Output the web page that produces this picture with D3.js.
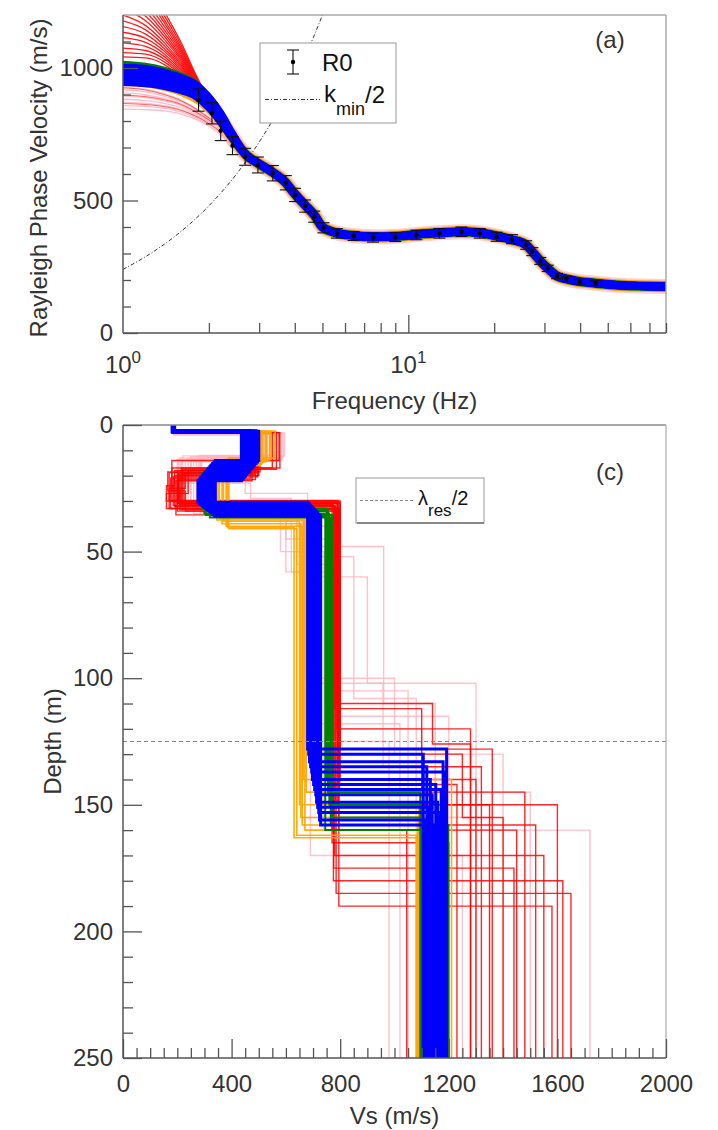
<!DOCTYPE html>
<html><head><meta charset="utf-8">
<script src="https://cdn.jsdelivr.net/npm/d3@7"></script>
<style>
body{margin:0;background:#fff}
svg{display:block}
text{font-family:"Liberation Sans",Arial,sans-serif;fill:#333}
</style>
</head><body>
<svg id="c" width="718" height="1130"></svg>
<script>
// ---------------- DATA: dispersion (panel a) ----------------
const freqGrid = [1, 1.2, 1.4, 1.6, 1.8, 2.0, 2.2, 2.4, 2.7, 3.0, 3.35, 3.7, 4.0, 4.35, 4.7, 5.0, 5.6, 6.4, 7.5, 9.0, 10.7, 12.8, 15.3, 17.8, 20.4, 23.1, 25.9, 27.2, 29.0, 30.8, 33.2, 35.8, 39.9, 45.3, 55, 80];
const bestFit  = [975, 968, 955, 935, 910, 862, 805, 745, 672, 638, 606, 570, 525, 482, 443, 400, 378, 368, 363, 365, 372, 378, 382, 378, 366, 352, 332, 307, 272, 244, 215, 204, 194, 188, 180, 175];
// low-frequency parts (first 8 grid frequencies) of the model curves
const redCurves = [
  [1450,1330,1210,1095,975,885,830,760],[1420,1310,1195,1085,968,882,828,759],
  [1390,1290,1180,1075,962,879,826,758],[1360,1270,1168,1066,957,876,825,757],
  [1330,1250,1155,1058,952,873,823,756],[1300,1230,1142,1050,947,870,822,756],
  [1275,1212,1130,1042,943,868,821,755],[1250,1195,1118,1034,939,866,820,755],
  [1225,1178,1106,1026,935,864,819,754],[1200,1160,1094,1018,931,862,818,754],
  [1178,1144,1083,1011,927,860,817,753],[1156,1128,1072,1004,923,858,816,753],
  [1135,1112,1062,997,919,856,815,752],[1115,1097,1052,990,915,854,814,752],
  [1095,1082,1042,983,911,852,813,751],[1075,1066,1032,976,907,850,812,751],
  [1058,1052,1022,969,903,848,811,750],[1042,1038,1012,962,899,846,810,750],
  [866,862,854,840,818,790,757,708],[898,892,880,862,834,804,772,720],[925,917,899,876,846,812,780,728]
];
const pinkCurves = [
  [845,843,838,826,806,780,748,700],[858,855,848,834,812,786,754,705],
  [870,866,857,842,818,792,760,710],[882,877,866,850,824,797,765,714],
  [894,888,875,858,830,802,770,718],[906,899,884,865,836,806,774,722],
  [918,910,893,872,842,810,778,726],[928,920,902,879,848,814,782,730]
];
const orangeCurves = [[935,929,916,896,868,828,785,735],[940,934,921,901,873,832,788,737]];
const greenCurves  = [[1024,1016,1001,980,952,902,840,762],[1020,1012,997,976,948,899,838,760]];
const blueCurves = [
  [1003,996,982,962,936,888,828,756],[990,984,971,952,926,880,822,752],
  [976,970,958,940,915,870,814,748],[962,957,946,928,905,861,806,744],
  [947,942,932,916,894,852,798,740]
];
// observed R0 dispersion with error bars
const r0Freq = [1.84, 2.05, 2.20, 2.42, 2.68, 2.97, 3.35, 3.72, 4.01, 4.35, 4.68, 5.04, 5.62, 6.43, 7.52, 9.0, 10.67, 12.85, 15.35, 17.8, 20.4, 23.1, 25.9, 27.2, 29.0, 30.8, 33.2, 35.8, 39.9, 45.3];
const r0Vel  = [879, 829, 763, 707, 665, 634, 603, 567, 521, 479, 439, 397, 376, 366, 360, 362, 370, 376, 382, 376, 363, 354, 332, 307, 272, 244, 215, 204, 194, 188];
const r0Err  = [42, 40, 37, 34, 32, 30, 29, 27, 25, 23, 21, 19, 18, 17, 17, 17, 18, 18, 18, 18, 17, 17, 16, 15, 13, 12, 10, 10, 9, 9];
// k_min/2 limit curve
const kFreq = [1, 1.25, 1.5, 1.75, 2, 2.5, 3, 3.5, 4, 4.5, 5, 5.5];
const kVel  = [240, 300, 360, 420, 480, 600, 720, 840, 960, 1080, 1200, 1320];
const velMajor = [0, 500, 1000];
const velMinor = [100, 200, 300, 400, 600, 700, 800, 900, 1100];
const freqMinor = [2, 3, 4, 5, 6, 7, 8, 9, 20, 30, 40, 50, 60, 70, 80];
const freqMajor = [10];
const freqLabels = [[1, "0"], [10, "1"]];

// ---------------- DATA: Vs profiles (panel c) ----------------
const pinkVs = [
  [185,520,250,640,780,1050],[186,590,210,600,760,1200],[188,540,280,660,900,1300],
  [184,575,230,450,680,960,1150],[187,560,200,580,740,1720],[185,510,290,670,1000,1400],
  [189,595,220,470,620,800,1100],[186,530,260,700,980],[183,565,240,650,850,1080],
  [188,545,270,690,1250],[185,585,205,640,760,1500],[187,525,285,675,958,1150],
  [184,555,215,600,720,1020],[186,570,250,660,1350]
];
const pinkZ = [
  [3.5,12.5,30,55,105],[3.2,13,32,45,115],[3.8,12,33,60,102],
  [3,14,22,27,48,110],[3.4,13.5,31,50,160],[3.6,12.8,34,100,130],
  [3.1,12.2,23,29,58,120],[3.5,14.5,35,125],[3.3,13.2,30.5,52,108],
  [3.7,12.6,33.5,170],[3.2,13.8,31.5,40,145],[3.9,12.4,34.5,102,135],
  [3.3,14.2,32.5,58,118],[3.5,13.4,31,155]
];
const redVs = [
  [185,480,200,790,1350],[187,575,180,785,1140,1280],[183,460,230,170,795,1450],
  [190,500,210,780,1550],[185,490,190,160,800,1300],[186,550,215,775,1620],
  [184,470,175,790,1250,1400],[188,485,205,798,1480],[185,505,165,230,785,1650],
  [187,475,195,770,1200],[183,565,220,792,1320],[189,495,185,780,1100,1520],
  [186,465,240,160,795,1580],[185,488,200,788,1280],[184,578,180,210,776,1440],
  [188,478,225,800,1360],[185,498,190,783,1600],[187,482,170,792,1230],
  [185,490,205,770,1045]
];
const redZ = [
  [3,18,31,150],[3,14,30,110,126],[2.8,19,25,33,160],
  [3.2,20,32,170],[3,18,24,30,140],[2.9,17,31.5,180],
  [3.1,21,33,130,155],[2.7,19.5,30.5,145],[3,18.5,26,34,185],
  [3.3,22,35.5,165],[2.8,17.5,30.8,135],[3,20.5,31.8,112,158],
  [2.9,18,27,33,190],[3.1,21.5,34,120],[3,17,26,33.5,175],
  [2.8,19,31,128],[3.2,20,32.2,150],[2.9,18.8,29.8,142],
  [3,19,31,160]
];
const orangeVs = [
  [185,530,370,650,1090],[183,545,380,660,1085],[188,515,355,670,1095],[186,560,390,640,1080],
  [190,505,350,675,1100],[184,525,365,655,1088],[187,540,385,630,1092],[185,510,345,665,1210]
];
const orangeZ = [
  [3,14,38,150],[2.6,13.5,40,158],[2.8,15,37,160],[2.4,13,41,162],
  [2.7,16,36.5,145],[2.5,14.5,39,155],[2.9,13.8,40.5,163],[2.6,15.5,37.5,140]
];
const greenVs = [
  [190,440,300,760,1100],[186,436,310,755,1095],[188,470,320,765,1198],
  [192,450,290,750,1105],[185,495,335,745,1190],[190,460,305,770,1100]
];
const greenZ = [
  [2.5,20,35,150],[2.7,21,34,145],[2.4,16,36.5,158],
  [2.6,19,33,140],[2.5,14.5,36,160],[2.6,18,35.5,155]
];
const blueVs = [
  [186,500,340,728,1146],[184,495,335,724,1113],[188,490,330,721,1166],[182,485,325,717,1126],
  [190,480,320,713,1159],[185,475,315,710,1139],[183,470,310,706,1172],[187,466,306,702,1152],
  [181,461,301,698,1132],[189,456,296,695,1185],[186,451,291,691,1119],[184,446,286,687,1179],
  [188,441,281,684,1106],[185,436,276,680,1192]
];
const blueZ = [
  [2.5,14.0,36.0,158],[2.7,14.6,35.6,156],[2.3,15.2,35.2,153],[2.8,15.8,34.7,151],
  [2.4,16.5,34.3,149],[2.6,17.1,33.9,146],[2.9,17.7,33.5,144],[2.2,18.3,33.0,142],
  [2.7,18.9,32.6,140],[2.5,19.5,32.2,137],[2.8,20.2,31.8,135],[2.4,20.8,31.3,133],
  [2.6,21.4,30.9,130],[2.5,22.0,30.5,128]
];
const resDepth = 125;
const depthMajor = [0, 50, 100, 150, 200, 250];
const depthMinor = [10,20,30,40,60,70,80,90,110,120,130,140,160,170,180,190,210,220,230,240];
const vsMajor = [0, 400, 800, 1200, 1600, 2000];
const vsMinor = [50,100,150,200,250,300,350,450,500,550,600,650,700,750,850,900,950,1000,1050,1100,1150,1250,1300,1350,1400,1450,1500,1550,1650,1700,1750,1800,1850,1900,1950];

// ---------------- DRAWING ----------------
const svg = d3.select("#c");
const FONT = 24;
const axisCol = "#555", lightCol = "#aaa";

// ===== Panel (a) =====
const A = {l:123, r:666, t:15, b:333};
const fx = d3.scaleLog().domain([1, 80]).range([A.l, A.r]);
const fy = d3.scaleLinear().domain([0, 1200]).range([A.b, A.t]);
svg.append("clipPath").attr("id","clipA").append("rect")
  .attr("x",A.l).attr("y",A.t).attr("width",A.r-A.l).attr("height",A.b-A.t);
const gA = svg.append("g").attr("clip-path","url(#clipA)");
const dline = d3.line().x(d=>fx(d[0])).y(d=>fy(d[1])).curve(d3.curveMonotoneX);
const curvePts = low => freqGrid.map((f,i)=>[f, i<low.length ? low[i] : bestFit[i]]);
const bestPts = freqGrid.map((f,i)=>[f, bestFit[i]]);

function drawCurves(set, color, width, op){
  gA.append("g").selectAll("path").data(set).join("path")
    .attr("d", d=>dline(curvePts(d))).attr("fill","none")
    .attr("stroke",color).attr("stroke-width",width).attr("stroke-opacity",op);
}
drawCurves(redCurves.slice(0,18), "#ff0000", 1.3, 0.9);
drawCurves(pinkCurves, "#ffb6c1", 1.3, 0.9);
drawCurves(redCurves.slice(18), "#ff0000", 1, 0.6);
// envelopes along the best-fitting family
gA.append("path").attr("d",dline(bestPts)).attr("fill","none").attr("stroke","#ffc0cb").attr("stroke-width",15).attr("stroke-opacity",0.8);
gA.append("path").attr("d",dline(bestPts)).attr("fill","none").attr("stroke","#ffa500").attr("stroke-width",11.5);
gA.append("path").attr("d",dline(bestPts)).attr("fill","none").attr("stroke","#008000").attr("stroke-width",9.5);
drawCurves(orangeCurves, "#ffa500", 1.5, 1);
drawCurves(greenCurves, "#008000", 1.8, 1);
drawCurves(blueCurves, "#0000ff", 8, 1);

// k_min/2 curve
gA.append("path").attr("d", dline(kFreq.map((f,i)=>[f,kVel[i]])))
  .attr("fill","none").attr("stroke","#222").attr("stroke-width",0.9).attr("stroke-dasharray","4,2,1,2");

// error bars
const eb = svg.append("g").selectAll("g").data(r0Freq.map((f,i)=>({f, v:r0Vel[i], e:r0Err[i]}))).join("g");
eb.append("line").attr("x1",d=>fx(d.f)).attr("x2",d=>fx(d.f)).attr("y1",d=>fy(d.v-d.e)).attr("y2",d=>fy(d.v+d.e)).attr("stroke","#111").attr("stroke-width",1.1);
eb.append("line").attr("x1",d=>fx(d.f)-6).attr("x2",d=>fx(d.f)+6).attr("y1",d=>fy(d.v+d.e)).attr("y2",d=>fy(d.v+d.e)).attr("stroke","#111").attr("stroke-width",1.1);
eb.append("line").attr("x1",d=>fx(d.f)-6).attr("x2",d=>fx(d.f)+6).attr("y1",d=>fy(d.v-d.e)).attr("y2",d=>fy(d.v-d.e)).attr("stroke","#111").attr("stroke-width",1.1);
eb.append("circle").attr("cx",d=>fx(d.f)).attr("cy",d=>fy(d.v)).attr("r",2.2).attr("fill","#000");

// legend (a)
const la = svg.append("g");
la.append("rect").attr("x",260).attr("y",43).attr("width",136).attr("height",80).attr("fill","#fff").attr("stroke","#999").attr("stroke-width",1);
la.append("line").attr("x1",293).attr("x2",293).attr("y1",50).attr("y2",74).attr("stroke","#111").attr("stroke-width",1.1);
la.append("line").attr("x1",287).attr("x2",299).attr("y1",50).attr("y2",50).attr("stroke","#111").attr("stroke-width",1.1);
la.append("line").attr("x1",287).attr("x2",299).attr("y1",74).attr("y2",74).attr("stroke","#111").attr("stroke-width",1.1);
la.append("circle").attr("cx",293).attr("cy",62).attr("r",2.2).attr("fill","#000");
la.append("text").attr("x",322).attr("y",71).attr("font-size",FONT).style("fill","#111").text("R0");
la.append("line").attr("x1",265).attr("x2",320).attr("y1",99.5).attr("y2",99.5).attr("stroke","#222").attr("stroke-width",0.9).attr("stroke-dasharray","4,2,1,2");
const kt = la.append("text").attr("x",324).attr("y",102).attr("font-size",FONT).style("fill","#111");
kt.append("tspan").text("k");
kt.append("tspan").attr("font-size",18).attr("dy",13).text("min");
kt.append("tspan").attr("dy",-12).text("/2");

// frame & axes (a)
svg.append("line").attr("x1",A.l).attr("x2",A.r).attr("y1",A.t).attr("y2",A.t).attr("stroke",lightCol).attr("stroke-width",1.5);
svg.append("line").attr("x1",A.r).attr("x2",A.r).attr("y1",A.t).attr("y2",A.b).attr("stroke",lightCol).attr("stroke-width",1.5);
svg.append("g").attr("transform",`translate(${A.l},0)`)
  .call(d3.axisLeft(fy).tickValues(velMajor).tickSize(-15).tickPadding(10).tickFormat(d3.format("d")));
svg.append("g").attr("transform",`translate(${A.l},0)`)
  .call(d3.axisLeft(fy).tickValues(velMinor).tickSize(-8).tickFormat(""));
svg.append("g").attr("transform",`translate(0,${A.b})`)
  .call(d3.axisBottom(fx).tickValues(freqMinor).tickSize(-10).tickFormat(""));
svg.append("g").attr("transform",`translate(0,${A.b})`)
  .call(d3.axisBottom(fx).tickValues(freqMajor).tickSize(-18).tickFormat(""));
svg.append("g").selectAll("text").data(freqLabels).join("text")
  .attr("x",d=>fx(d[0])).attr("y",A.b+40).attr("text-anchor","middle").attr("font-size",FONT)
  .each(function(d){
    const t = d3.select(this);
    t.append("tspan").text("10");
    t.append("tspan").attr("font-size",17).attr("dy",-10).text(d[1]);
  });
svg.append("line").attr("x1",A.l).attr("x2",A.l).attr("y1",A.t).attr("y2",A.b).attr("stroke",axisCol).attr("stroke-width",1.5);
svg.append("line").attr("x1",A.l).attr("x2",A.r).attr("y1",A.b).attr("y2",A.b).attr("stroke",axisCol).attr("stroke-width",1.5);
svg.append("text").attr("x",(A.l+A.r)/2).attr("y",409).attr("text-anchor","middle").attr("font-size",FONT).text("Frequency (Hz)");
svg.append("text").attr("transform",`translate(47,${(A.t+A.b)/2+4}) rotate(-90)`).attr("text-anchor","middle").attr("font-size",FONT).text("Rayleigh Phase Velocity (m/s)");
svg.append("text").attr("x",610).attr("y",48).attr("text-anchor","middle").attr("font-size",FONT).text("(a)");

// ===== Panel (c) =====
const C = {l:123, r:666, t:425, b:1058};
const vx = d3.scaleLinear().domain([0, 2000]).range([C.l, C.r]);
const vy = d3.scaleLinear().domain([0, 250]).range([C.t, C.b]);
svg.append("clipPath").attr("id","clipC").append("rect")
  .attr("x",C.l).attr("y",C.t).attr("width",C.r-C.l).attr("height",C.b-C.t);
const gC = svg.append("g").attr("clip-path","url(#clipC)");
const pline = d3.line().x(d=>vx(d[0])).y(d=>vy(d[1]));
function stepPts(vs, z){
  const pts = []; let top = 0;
  vs.forEach((v,i)=>{ const bot = i<z.length ? z[i] : 250; pts.push([v,top],[v,bot]); top = bot; });
  return pts;
}
function drawProfiles(vsSet, zSet, color, width, op){
  gC.append("g").selectAll("path").data(vsSet).join("path")
    .attr("d",(d,i)=>pline(stepPts(d, zSet[i]))).attr("fill","none")
    .attr("stroke",color).attr("stroke-width",width).attr("stroke-opacity",op);
}
drawProfiles(pinkVs, pinkZ, "#ffb6c1", 1.4, 0.85);
drawProfiles(redVs, redZ, "#ff0000", 1.4, 0.85);
drawProfiles(orangeVs, orangeZ, "#ffa500", 1.6, 0.95);
drawProfiles(greenVs, greenZ, "#008000", 2, 1);
drawProfiles(blueVs, blueZ, "#0000ff", 3, 1);

// lambda_res/2 line
svg.append("line").attr("x1",vx(0)).attr("x2",vx(2000)).attr("y1",vy(resDepth)).attr("y2",vy(resDepth))
  .attr("stroke","#888").attr("stroke-width",1.2).attr("stroke-dasharray","4,3");

// legend (c)
const lc = svg.append("g");
lc.append("rect").attr("x",356).attr("y",478).attr("width",128).attr("height",45).attr("fill","#fff").attr("stroke","#999").attr("stroke-width",1);
lc.append("line").attr("x1",357).attr("x2",484).attr("y1",523).attr("y2",523).attr("stroke","#444").attr("stroke-width",1.2);
lc.append("line").attr("x1",360).attr("x2",413).attr("y1",500.5).attr("y2",500.5).attr("stroke","#888").attr("stroke-width",1.2).attr("stroke-dasharray","3,2");
const lt = lc.append("text").attr("x",418).attr("y",505).attr("font-size",20).style("fill","#111");
lt.append("tspan").text("λ");
lt.append("tspan").attr("font-size",17).attr("dy",11).text("res");
lt.append("tspan").attr("dy",-11).attr("font-size",20).text("/2");

// frame & axes (c)
svg.append("line").attr("x1",C.l).attr("x2",C.r).attr("y1",C.t).attr("y2",C.t).attr("stroke","#888").attr("stroke-width",1.5);
svg.append("line").attr("x1",C.r).attr("x2",C.r).attr("y1",C.t).attr("y2",C.b).attr("stroke","#bbb").attr("stroke-width",1.5);
svg.append("g").attr("transform",`translate(${C.l},0)`)
  .call(d3.axisLeft(vy).tickValues(depthMajor).tickSize(-19).tickPadding(10).tickFormat(d3.format("d")));
svg.append("g").attr("transform",`translate(${C.l},0)`)
  .call(d3.axisLeft(vy).tickValues(depthMinor).tickSize(-10).tickFormat(""));
svg.append("g").attr("transform",`translate(0,${C.b})`)
  .call(d3.axisBottom(vx).tickValues(vsMajor).tickSize(-19).tickPadding(17).tickFormat(d3.format("d")));
svg.append("g").attr("transform",`translate(0,${C.b})`)
  .call(d3.axisBottom(vx).tickValues(vsMinor).tickSize(-10).tickFormat(""));
svg.append("line").attr("x1",C.l).attr("x2",C.l).attr("y1",C.t).attr("y2",C.b).attr("stroke",axisCol).attr("stroke-width",1.5);
svg.append("line").attr("x1",C.l).attr("x2",C.r).attr("y1",C.b).attr("y2",C.b).attr("stroke",axisCol).attr("stroke-width",1.5);
svg.append("text").attr("x",(C.l+C.r)/2).attr("y",1124).attr("text-anchor","middle").attr("font-size",FONT).text("Vs (m/s)");
svg.append("text").attr("transform",`translate(61,${(C.t+C.b)/2}) rotate(-90)`).attr("text-anchor","middle").attr("font-size",FONT).text("Depth (m)");
svg.append("text").attr("x",610).attr("y",480).attr("text-anchor","middle").attr("font-size",FONT).text("(c)");

// axis styling
svg.selectAll(".domain").remove();
svg.selectAll(".tick line").attr("stroke",axisCol).attr("stroke-width",1.3);
svg.selectAll(".tick text").attr("font-size",FONT).attr("font-family","Liberation Sans, Arial, sans-serif").style("fill","#333");
</script>
</body></html>
